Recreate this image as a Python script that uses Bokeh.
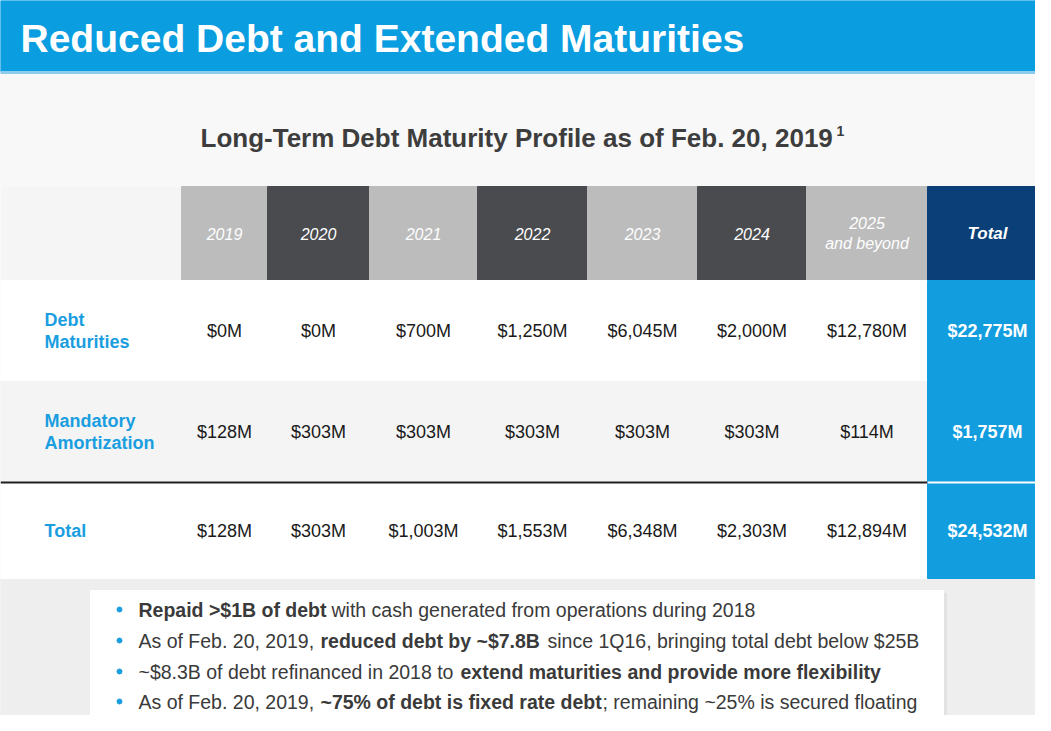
from bokeh.plotting import figure
from bokeh.models import Range1d, ColumnDataSource
from bokeh.core.properties import value
from bokeh.embed import file_html
from bokeh.resources import INLINE

# ---------------- data ----------------
title = "Reduced Debt and Extended Maturities"
subtitle = "Long-Term Debt Maturity Profile as of Feb. 20, 2019"
periods = ["2019", "2020", "2021", "2022", "2023", "2024", "2025\nand beyond"]
row_labels = ["Debt\nMaturities", "Mandatory\nAmortization", "Total"]
debt_maturities = [0, 0, 700, 1250, 6045, 2000, 12780]
mandatory_amortization = [128, 303, 303, 303, 303, 303, 114]
total_by_year = [128, 303, 1003, 1553, 6348, 2303, 12894]
row_totals = [22775, 1757, 24532]
bullets = [
    [("Repaid >$1B of debt", True), ("with cash generated from operations during 2018", False)],
    [("As of Feb. 20, 2019,", False), ("reduced debt by ~$7.8B", True),
     ("since 1Q16, bringing total debt below $25B", False)],
    [("~$8.3B of debt refinanced in 2018 to", False),
     ("extend maturities and provide more flexibility", True)],
    [("As of Feb. 20, 2019,", False), ("~75% of debt is fixed rate debt", True),
     ("; remaining ~25% is secured floating", False)],
]

# ---------------- layout constants ----------------
col_edges = [181, 267, 369, 477, 587, 697, 806, 927, 1047]
row_edges = [280, 381, 482, 578]
head_top, head_bot = 186, 280
bullet_y = [609, 640, 671, 701]
seg_x = [[138, 331], [138, 320, 547], [138, 460], [138, 320, 602]]

FONT = value("Liberation Sans")
BLUE = "#129ddf"
DARK_BLUE = "#0b3f78"
LIGHT_HEAD = "#bcbcbc"
DARK_HEAD = "#4a4b4f"
TXT = "#3a3a3a"

p = figure(width=1035, height=715, x_range=Range1d(0, 1035), y_range=Range1d(715, 0),
           output_backend="svg", toolbar_location=None, min_border=0,
           background_fill_color="#f5f5f5", border_fill_color="#f5f5f5")
p.axis.visible = False
p.grid.visible = False
p.outline_line_color = None

# backgrounds
p.quad(left=[0], right=[1051], top=[73], bottom=[186], color="#f8f8f8")
p.quad(left=[0], right=[1051], top=[578], bottom=[731], color="#eeeeee")
p.quad(left=[93], right=[946], top=[593], bottom=[731], color="#e2e2e2")
p.quad(left=[90], right=[943], top=[590], bottom=[731], color="#ffffff")

# title bar
p.quad(left=[0], right=[1051], top=[0], bottom=[71], color="#0a9ddf")
p.quad(left=[0], right=[1051], top=[71], bottom=[73], color="#8ccdee")
p.text(x=[20], y=[38], text=[title], text_font=FONT, text_font_size="39px",
       text_font_style="bold", text_color="white", text_baseline="alphabetic")

# subtitle with superscript
p.text(x=[200], y=[137], text=[subtitle], text_font=FONT, text_font_size="26px",
       text_font_style="bold", text_color="#3d3d3d", text_baseline="middle")
p.text(x=[836], y=[130], text=["1"], text_font=FONT, text_font_size="14px",
       text_font_style="bold", text_color="#3d3d3d", text_baseline="middle")

# header cells
n = len(periods)
lefts = col_edges[:n]
rights = col_edges[1:n + 1]
head_colors = [LIGHT_HEAD if i % 2 == 0 else DARK_HEAD for i in range(n)]
p.quad(left=lefts, right=rights, top=[head_top] * n, bottom=[head_bot] * n,
       color=head_colors)
p.quad(left=[col_edges[n]], right=[col_edges[n + 1]], top=[head_top], bottom=[head_bot],
       color=DARK_BLUE)
centers = [(a + b) / 2 for a, b in zip(col_edges[:-1], col_edges[1:])]
p.text(x=centers[:n], y=[233] * n, text=periods, text_font=FONT, text_font_size="16px",
       text_font_style="italic", text_color="white", text_align="center",
       text_baseline="middle", text_line_height=1.15)
p.text(x=[centers[n]], y=[233], text=["Total"], text_font=FONT, text_font_size="17px",
       text_font_style="bold italic", text_color="white", text_align="center",
       text_baseline="middle")

# body rows
p.quad(left=[0, 0, 0], right=[col_edges[n]] * 3, top=row_edges[:3], bottom=row_edges[1:],
       color=["#ffffff", "#f4f4f4", "#ffffff"])
p.quad(left=[col_edges[n]] * 3, right=[col_edges[n + 1]] * 3, top=row_edges[:3],
       bottom=row_edges[1:], color=BLUE)
p.segment(x0=[0], x1=[col_edges[n]], y0=[row_edges[2]], y1=[row_edges[2]],
          line_color="#1e1e1e", line_width=2)
p.segment(x0=[col_edges[n]], x1=[col_edges[n + 1]], y0=[row_edges[2]], y1=[row_edges[2]],
          line_color="white", line_width=2)

row_mid = [(a + b) / 2 for a, b in zip(row_edges[:-1], row_edges[1:])]
lx, ly, lt = [], [], []
for r, lab in enumerate(row_labels):
    parts = lab.split("\n")
    k = len(parts)
    for i, part in enumerate(parts):
        lx.append(44)
        ly.append(row_mid[r] + (i - (k - 1) / 2) * 22)
        lt.append(part)
p.text(x=lx, y=ly, text=lt, text_font=FONT, text_font_size="18px",
       text_font_style="bold", text_color="#1a9ee0", text_baseline="middle")

fmt = lambda v: "${:,}M".format(v)
for r, series in enumerate([debt_maturities, mandatory_amortization, total_by_year]):
    src = ColumnDataSource(dict(x=centers[:n], y=[row_mid[r]] * n,
                                t=[fmt(v) for v in series]))
    p.text(x="x", y="y", text="t", source=src, text_font=FONT, text_font_size="18px",
           text_color="#1a1a1a", text_align="center", text_baseline="middle")
p.text(x=[centers[n]] * 3, y=row_mid, text=[fmt(v) for v in row_totals], text_font=FONT,
       text_font_size="18px", text_font_style="bold", text_color="white",
       text_align="center", text_baseline="middle")

# bullets
p.scatter(x=[119] * len(bullets), y=bullet_y, size=5, color="#1a9ee0")
for i, line in enumerate(bullets):
    for j, (seg, bold) in enumerate(line):
        p.text(x=[seg_x[i][j]], y=[bullet_y[i]], text=[seg], text_font=FONT,
               text_font_size="19.5px",
               text_font_style="bold" if bold else "normal",
               text_color=TXT, text_baseline="middle")

open("out.html", "w").write(file_html(p, INLINE))
